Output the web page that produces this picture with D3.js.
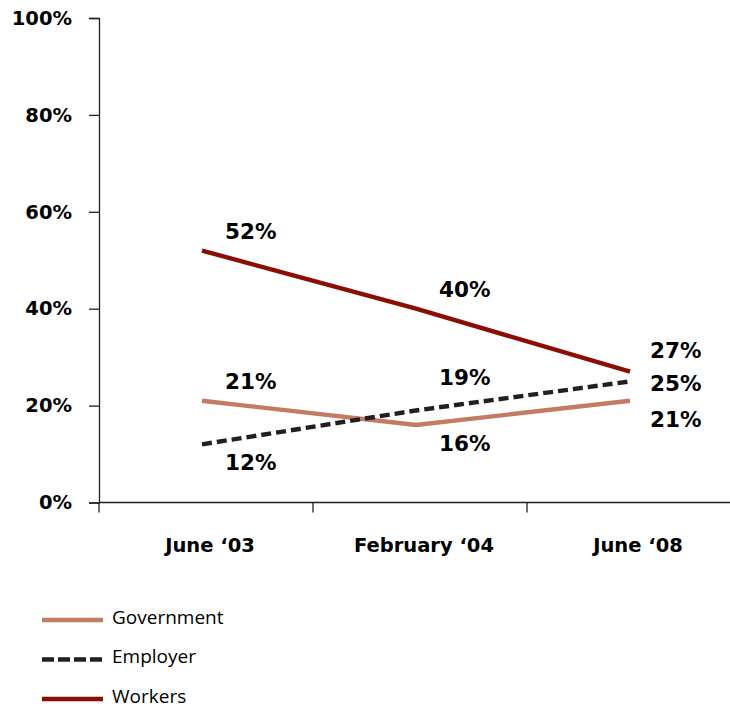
<!DOCTYPE html>
<html>
<head>
<meta charset="utf-8">
<script src="https://cdn.jsdelivr.net/npm/d3@7"></script>
<style>
  html, body { margin: 0; padding: 0; background: #fff; }
  svg { display: block; }
  .axis path, .axis line { stroke: #231f20; stroke-width: 1.3; }
  .tick text { font-family: "DejaVu Sans", sans-serif; font-weight: bold; fill: #000; }
</style>
</head>
<body>
<svg id="chart" width="730" height="708"></svg>
<script>
// Survey waves
const periods = ["June \u201803", "February \u201804", "June \u201808"];

// Share (%) naming each party as responsible
const government = [21, 16, 21];
const employer   = [12, 19, 25];
const workers    = [52, 40, 27];

const yTicks = [0, 20, 40, 60, 80, 100];

const seriesNames  = ["Government", "Employer", "Workers"];
const seriesColors = ["#c17c61", "#231f20", "#8b0d03"];
const seriesDash   = [null, "10,5", null];
const legendDash   = [null, "12,4", null];

// Value-label placement per series and wave: [dx, dy]
const labelPlacement = [
  [[23, -12], [23, 26], [20, 26]],
  [[23, 26], [23, -25], [20, 10]],
  [[23, -12], [23, -12], [20, -14]]
];

const boldFont = "'DejaVu Sans', sans-serif";
const plainFont = "'Open Sans', sans-serif";

const svg = d3.select("#chart");
const plotLeft = 99, plotRight = 741, plotTop = 18, plotBottom = 502.5;

const x = d3.scaleBand().domain(periods).range([plotLeft, plotRight]);
const y = d3.scaleLinear().domain([0, 100]).range([plotBottom, plotTop]);
const px = c => x(c) + x.bandwidth() / 2 - 4;

// Y axis
const yAxis = svg.append("g")
  .attr("class", "axis")
  .attr("transform", `translate(${plotLeft},0)`)
  .call(d3.axisLeft(y).tickValues(yTicks).tickFormat(d => d + "%").tickSize(10).tickPadding(17));
yAxis.selectAll(".tick text").attr("font-size", 19.5);

// X axis with ticks at band boundaries
const xAxis = svg.append("g")
  .attr("class", "axis")
  .attr("transform", `translate(0,${plotBottom})`);
xAxis.append("line")
  .attr("x1", plotLeft).attr("x2", plotRight).attr("y1", 0).attr("y2", 0)
  .attr("stroke", "#231f20").attr("stroke-width", 1.3);
xAxis.selectAll("line.sep")
  .data(periods)
  .join("line")
  .attr("class", "sep")
  .attr("x1", d => x(d)).attr("x2", d => x(d))
  .attr("y1", 0).attr("y2", 10)
  .attr("stroke", "#231f20").attr("stroke-width", 1.3);
xAxis.selectAll("text")
  .data(periods)
  .join("text")
  .attr("x", d => x(d) + x.bandwidth() / 2 + 4)
  .attr("y", 49.5)
  .attr("text-anchor", "middle")
  .attr("font-family", boldFont)
  .attr("font-weight", "bold")
  .attr("font-size", 19.5)
  .text(d => d);

// Lines
const data = [government, employer, workers];
const line = d3.line().x((d, i) => px(periods[i])).y(d => y(d));

svg.selectAll("path.series")
  .data(data)
  .join("path")
  .attr("class", "series")
  .attr("d", d => line(d))
  .attr("fill", "none")
  .attr("stroke", (d, i) => seriesColors[i])
  .attr("stroke-width", 4.4)
  .attr("stroke-dasharray", (d, i) => seriesDash[i]);

// Value labels
data.forEach((vals, s) => {
  svg.append("g").selectAll("text")
    .data(vals)
    .join("text")
    .attr("x", (d, i) => px(periods[i]) + labelPlacement[s][i][0])
    .attr("y", (d, i) => y(d) + labelPlacement[s][i][1])
    .attr("font-family", boldFont)
    .attr("font-weight", "bold")
    .attr("font-size", 21.5)
    .attr("fill", "#000")
    .text(d => d + "%");
});

// Legend
const legend = svg.append("g").attr("transform", "translate(42,620)");
seriesNames.forEach((name, i) => {
  const g = legend.append("g").attr("transform", `translate(0,${i * 39.5})`);
  g.append("line")
    .attr("x1", 0).attr("x2", 61).attr("y1", 0).attr("y2", 0)
    .attr("stroke", seriesColors[i])
    .attr("stroke-width", 4.4)
    .attr("stroke-dasharray", legendDash[i]);
  g.append("text")
    .attr("x", 70).attr("y", 3.5)
    .attr("font-family", plainFont)
    .attr("font-size", 19)
    .attr("fill", "#000")
    .text(name);
});
</script>
</body>
</html>
